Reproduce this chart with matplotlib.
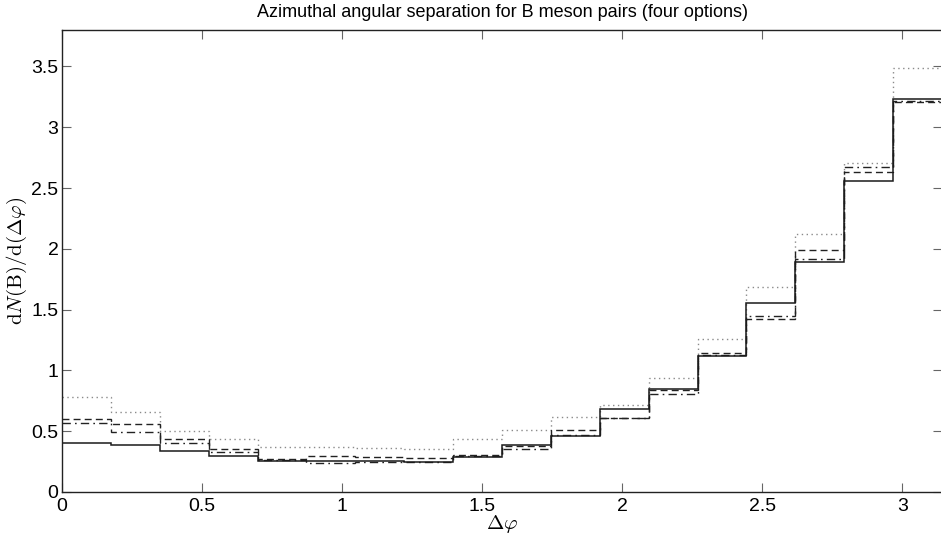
import numpy as np
import matplotlib
matplotlib.use('Agg')
import matplotlib.pyplot as plt

# bin edges in delta phi: 18 equal bins over [0, pi]
n_bins = 18
edges = np.linspace(0, np.pi, n_bins + 1)

# four options, values
solid = [0.40, 0.39, 0.335, 0.296, 0.258, 0.252, 0.252, 0.25, 0.29,
         0.387, 0.464, 0.686, 0.85, 1.12, 1.553, 1.893, 2.557, 3.229]
dashed = [0.598, 0.56, 0.436, 0.35, 0.275, 0.30, 0.29, 0.283, 0.305,
          0.378, 0.513, 0.606, 0.84, 1.14, 1.427, 1.994, 2.631, 3.21]
dotted = [0.78, 0.66, 0.50, 0.44, 0.368, 0.372, 0.362, 0.355, 0.44,
          0.506, 0.617, 0.713, 0.936, 1.257, 1.685, 2.123, 2.705, 3.49]
dashdot = [0.57, 0.494, 0.406, 0.327, 0.262, 0.236, 0.25, 0.245, 0.30,
           0.35, 0.47, 0.606, 0.807, 1.13, 1.451, 1.918, 2.677, 3.215]

x_ticks = [0, 0.5, 1, 1.5, 2, 2.5, 3]
x_tick_labels = ['0', '0.5', '1', '1.5', '2', '2.5', '3']
y_ticks = [0, 0.5, 1, 1.5, 2, 2.5, 3, 3.5]
y_tick_labels = ['0', '0.5', '1', '1.5', '2', '2.5', '3', '3.5']

plt.rcParams['font.family'] = ['Liberation Sans', 'DejaVu Sans']
plt.rcParams['mathtext.fontset'] = 'cm'

fig = plt.figure(figsize=(9.41, 5.39), dpi=100)
ax = fig.add_axes([0.0659, 0.0872, 0.9352, 0.8571])

# histograms as steps, no outer verticals down to zero
ax.stairs(dotted, edges, baseline=None, color='#8a8a8a', linestyle=(0, (1, 2.5)), linewidth=1.0)
ax.stairs(dashed, edges, baseline=None, color='#222222', linestyle=(0, (5, 3)), linewidth=1.0)
ax.stairs(dashdot, edges, baseline=None, color='#222222', linestyle=(0, (6, 3, 1.2, 3)), linewidth=1.0)
ax.stairs(solid, edges, baseline=None, color='#1a1a1a', linestyle='-', linewidth=1.1)

ax.set_xlim(0, np.pi)
ax.set_ylim(0, 3.8)
ax.set_xticks(x_ticks)
ax.set_xticklabels(x_tick_labels)
ax.set_yticks(y_ticks)
ax.set_yticklabels(y_tick_labels)
ax.tick_params(direction='in', length=6.5, width=0.8, color='#666666',
               top=True, right=True, labelsize=14)
ax.tick_params(axis='x', pad=4)
ax.tick_params(axis='y', pad=2.5)
for s in ax.spines.values():
    s.set_linewidth(1.0)
    s.set_color('#222222')

ax.set_title('Azimuthal angular separation for B meson pairs (four options)',
             fontsize=13, pad=9.5)
ax.set_xlabel(r'$\Delta\varphi$', fontsize=15)
ax.xaxis.set_label_coords(0.5, -0.045)
ax.set_ylabel(r'$\mathrm{d}N(\mathrm{B})/\mathrm{d}(\Delta\varphi)$', fontsize=15)
ax.yaxis.set_label_coords(-0.037, 0.5)

fig.savefig('out.png', dpi=100)
